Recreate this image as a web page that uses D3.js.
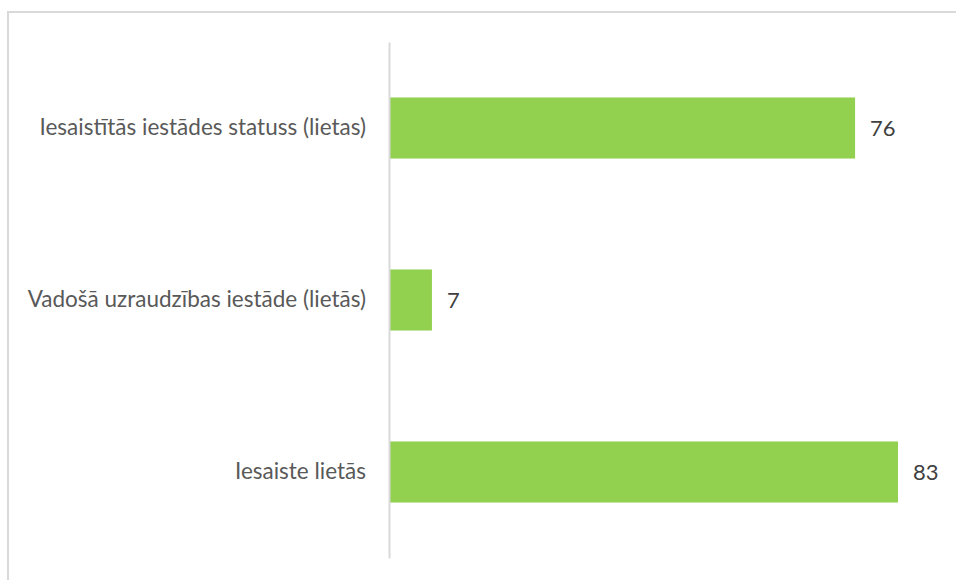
<!DOCTYPE html>
<html><head><meta charset="utf-8">
<script src="https://cdn.jsdelivr.net/npm/d3@7"></script>
<style>body{margin:0;background:#fff}svg{display:block}</style>
</head><body>
<svg id="c" width="956" height="580"></svg>
<script>
const categories = ["Iesaistītās iestādes statuss (lietas)", "Vadošā uzraudzības iestāde (lietās)", "Iesaiste lietās"];
const values = [76, 7, 83];

(function () {
const svg = d3.select("#c");
const W = 956, H = 580;
svg.append("rect").attr("width", W).attr("height", H).attr("fill", "#fff");
// chart border
svg.append("rect").attr("x", 8).attr("y", 12).attr("width", 960).attr("height", 600)
  .attr("fill", "none").attr("stroke", "#d9d9d9").attr("stroke-width", 2);

const x0 = 389, plotTop = 42, plotBottom = 558;
const x = d3.scaleLinear().domain([0, 83]).range([x0, 898]);
const y = d3.scaleBand().domain(categories).range([plotTop, plotBottom]).paddingInner(0.645).paddingOuter(0.3225);

const font = "Lato, 'Open Sans', sans-serif";

svg.selectAll("rect.bar").data(values).enter().append("rect")
  .attr("class", "bar")
  .attr("x", x(0))
  .attr("y", (d, i) => y(categories[i]))
  .attr("width", d => x(d) - x(0))
  .attr("height", y.bandwidth())
  .attr("fill", "#92d050");

// axis
const yAxis = d3.axisLeft(y).tickSize(0).tickPadding(23);
const ag = svg.append("g").attr("transform", `translate(${x0},0)`).call(yAxis);
ag.select(".domain").attr("stroke", "#d9d9d9").attr("stroke-width", 2);
ag.selectAll("text").attr("fill", "#595959").style("font-family", font).style("font-size", "22.5px");

svg.selectAll("text.val").data(values).enter().append("text")
  .attr("class", "val")
  .attr("x", d => x(d) + 15)
  .attr("y", (d, i) => y(categories[i]) + y.bandwidth() / 2)
  .attr("dy", "0.35em")
  .attr("fill", "#404040")
  .style("font-family", font).style("font-size", "22px")
  .text(d => d);
})();
</script>
</body></html>
